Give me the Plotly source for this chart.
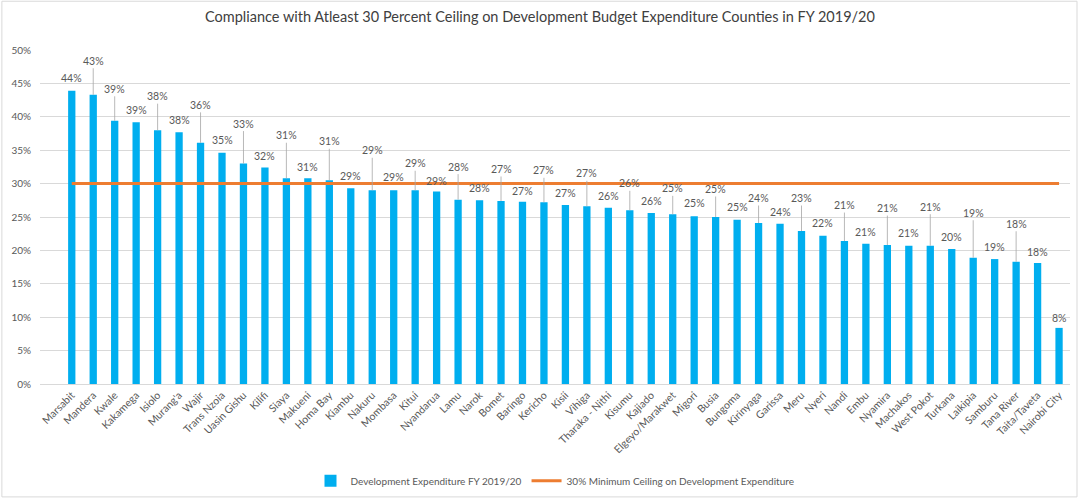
import plotly.graph_objects as go

# counties and development expenditure share (%) for FY 2019/20
counties = ["Marsabit", "Mandera", "Kwale", "Kakamega", "Isiolo", "Murang'a", "Wajir",
            "Trans Nzoia", "Uasin Gishu", "Kilifi", "Siaya", "Makueni", "Homa Bay", "Kiambu",
            "Nakuru", "Mombasa", "Kitui", "Nyandarua", "Lamu", "Narok", "Bomet", "Baringo",
            "Kericho", "Kisii", "Vihiga", "Tharaka - Nithi", "Kisumu", "Kajiado",
            "Elgeyo/Marakwet", "Migori", "Busia", "Bungoma", "Kirinyaga", "Garissa", "Meru",
            "Nyeri", "Nandi", "Embu", "Nyamira", "Machakos", "West Pokot", "Turkana",
            "Laikipia", "Samburu", "Tana River", "Taita/Taveta", "Nairobi City"]
dev_expenditure = [43.9, 43.3, 39.4, 39.2, 38.0, 37.7, 36.1,
                   34.6, 33.0, 32.4, 30.8, 30.8, 30.5, 29.3,
                   29.0, 29.0, 29.0, 28.8, 27.6, 27.5, 27.4, 27.3,
                   27.2, 26.8, 26.6, 26.4, 26.0, 25.6,
                   25.4, 25.1, 25.0, 24.6, 24.1, 24.0, 22.9,
                   22.2, 21.4, 21.0, 20.8, 20.7, 20.7, 20.2,
                   18.9, 18.7, 18.3, 18.1, 8.4]
ceiling_value = 30
ceiling = [ceiling_value] * len(counties)

# how far (px) each data label sits above its bar; the long ones get a leader line
label_lift = [-13, -34, -32, -12, -34, -12, -38, -13, -40, -12, -43, -11, -39, -12,
              -40, -13, -27, -11, -33, -12, -32, -11, -32, -12, -33, -12, -27, -12,
              -26, -13, -28, -13, -25, -12, -33, -13, -36, -12, -37, -13, -39, -12,
              -45, -12, -38, -11, -10]

grey = "#595959"
font = "Lato"

fig = go.Figure()
fig.add_trace(go.Bar(x=counties, y=dev_expenditure, name="Development Expenditure FY 2019/20",
                     marker=dict(color="#00AEEF", line=dict(width=0)), width=0.34))
fig.add_trace(go.Scatter(x=counties, y=ceiling, mode="lines",
                         name="30% Minimum Ceiling on Development Expenditure",
                         line=dict(color="#ED7D31", width=3)))

for c, v, lift in zip(counties, dev_expenditure, label_lift):
    leader = lift < -20
    fig.add_annotation(x=c, y=v, text="%d%%" % int(v + 0.5), showarrow=True, arrowhead=0,
                       arrowwidth=0.8, arrowcolor="#A6A6A6" if leader else "rgba(0,0,0,0)",
                       ax=0, ay=lift, standoff=0,
                       font=dict(family=font, size=10.5, color=grey))

# light chart-area border like the Excel chart
fig.add_shape(type="rect", xref="paper", yref="paper", x0=-0.037, x1=1.0068, y0=-0.338, y1=1.146,
              line=dict(color="#D9D9D9", width=1), layer="below")

fig.update_layout(
    width=1080, height=499,
    margin=dict(l=40, r=10, t=50, b=115, autoexpand=False),
    paper_bgcolor="white", plot_bgcolor="white",
    font=dict(family=font, color=grey),
    title=dict(text="Compliance with Atleast 30 Percent Ceiling on Development Budget Expenditure Counties in FY 2019/20",
               x=0.5, xanchor="center", y=0.966, yanchor="middle",
               font=dict(family=font, size=14.5, color="#404040")),
    showlegend=True,
    legend=dict(orientation="h", x=0.5, xanchor="center", y=-0.29, yanchor="middle",
                font=dict(family=font, size=10, color=grey), itemwidth=30),
    bargap=0.6,
)
fig.update_xaxes(range=[-1.48, 46.51], tickangle=-45, showgrid=False, showline=True,
                 linecolor="#D9D9D9", linewidth=1, ticks="",
                 tickfont=dict(family=font, size=10.5, color=grey))
fig.update_yaxes(range=[0, 50], dtick=5, ticksuffix="%", showgrid=True, gridcolor="#D9D9D9",
                 gridwidth=1, zeroline=False, showline=False, ticklabelstandoff=8,
                 tickfont=dict(family=font, size=10, color=grey))

# drop the browser's default body margin so the figure sits at the page corner
fig.write_html("out.html", config={"displayModeBar": False},
               post_script="document.body.style.margin='0px';")
